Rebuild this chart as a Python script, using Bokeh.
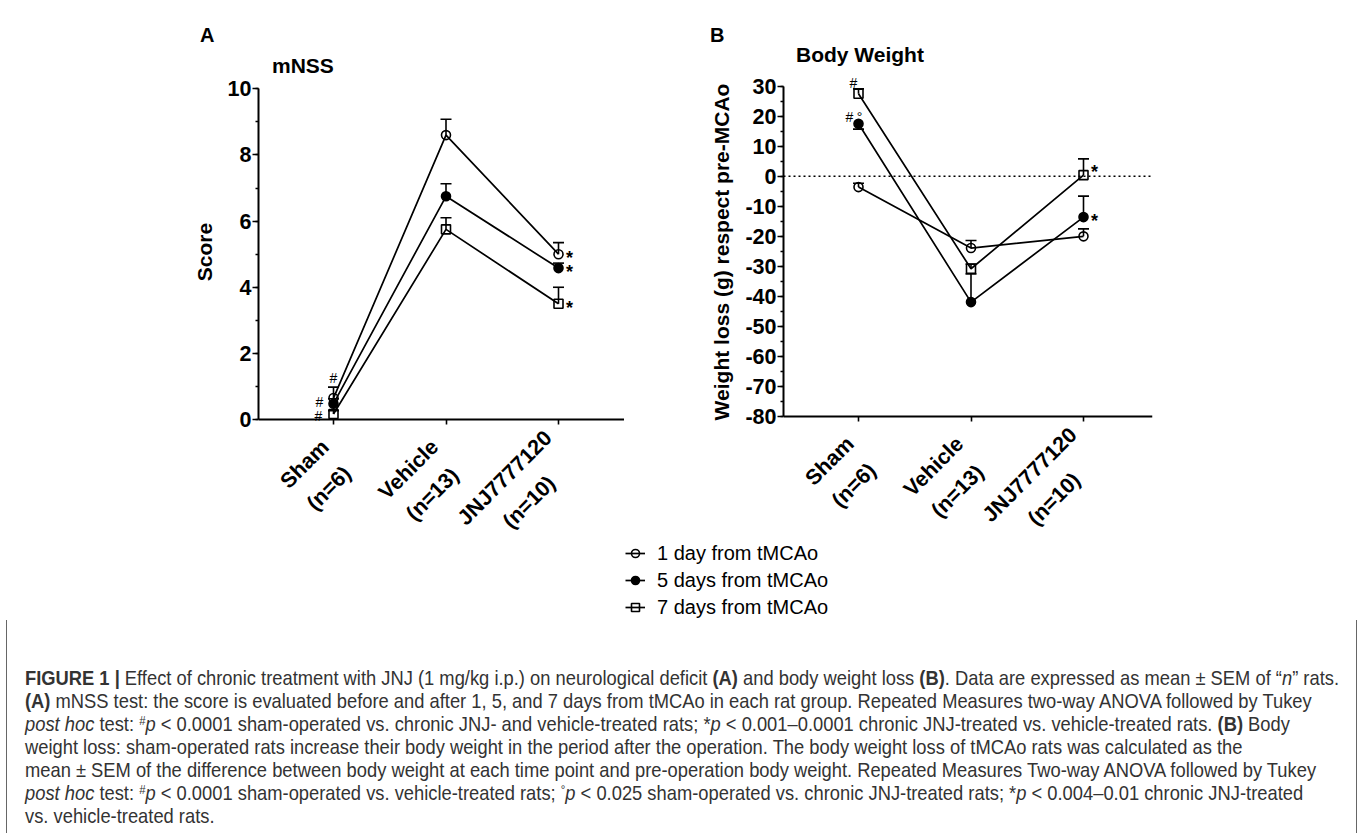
import math
from bokeh.plotting import figure
from bokeh.models import (ColumnDataSource, Range1d, FixedTicker, SingleIntervalTicker,
                          PrintfTickFormatter, Whisker, TeeHead, Span, LabelSet, Legend,
                          LegendItem, Div)
from bokeh.layouts import column, row
from bokeh.core.properties import value
from bokeh.embed import file_html
from bokeh.resources import INLINE

# ---------------- data ----------------
groups = ["Sham", "Vehicle", "JNJ7777120"]
group_n = ["(n=6)", "(n=13)", "(n=10)"]
group_pos = [1, 2, 3]
series = ["1 day from tMCAo", "5 days from tMCAo", "7 days from tMCAo"]

# mNSS score (mean, SEM)
mnss_day1 = [0.65, 8.60, 5.00]
mnss_day1_sem = [0.33, 0.48, 0.35]
mnss_day5 = [0.48, 6.75, 4.58]
mnss_day5_sem = [0.15, 0.38, 0.15]
mnss_day7 = [0.17, 5.75, 3.50]
mnss_day7_sem = [0.10, 0.35, 0.50]

# Body weight change (g) respect pre-MCAo (mean, SEM)
bw_day1 = [-3.6, -23.9, -20.0]
bw_day1_sem = [1.3, 2.5, 2.5]
bw_day5 = [17.5, -41.9, -13.6]
bw_day5_sem = [1.8, 9.4, 7.0]
bw_day7 = [27.5, -30.8, 0.4]
bw_day7_sem = [1.6, 1.6, 5.4]

# direction of the drawn error bar
mnss_err_dir = [["up", "up", "up"], ["up", "up", "up"], ["up", "up", "up"]]
bw_err_dir = [["up", "up", "up"], ["down", "up", "up"], ["up", "up", "up"]]

# significance marks: (series index, group index, text, anchor)
mnss_marks = [(0, 0, "#", "err"), (1, 0, "#", "pt"), (2, 0, "#", "pt"),
              (0, 2, "*", "pt"), (1, 2, "*", "pt"), (2, 2, "*", "pt")]
bw_marks = [(2, 0, "#", "err"), (1, 0, "#", "pt"), (1, 0, "°", "pt"),
            (2, 2, "*", "pt"), (1, 2, "*", "pt")]

# ---------------- style / layout ----------------
FONT = "Liberation Sans"
MARKERS = [("circle", False), ("circle", True), ("square", False)]
CAT_PX = 112.5                     # pixels between categories
X_START = 1 - 75.0 / CAT_PX
TOP_Y = 74                         # page y where the chart row (and both frames) start
ROW_BOTTOM = 540
ROW_H = ROW_BOTTOM - TOP_Y
BOTTOM_BORDER = 6
FRAME_BOTTOM = ROW_BOTTOM - BOTTOM_BORDER   # page y of both frames' bottom
NBSP = "\u00a0"
LABEL_LIFT = NBSP * 18             # centres the y-axis title on the 0..max part of the axis

# rotated two-line category labels: second line centred under the first
TICK_FS = 21.5
TICK_PITCH = 1.6 * TICK_FS
BOLD_W = {"S": .667, "h": .611, "a": .556, "m": .889, "V": .667, "e": .556, "i": .278,
          "c": .556, "l": .278, "J": .556, "N": .722, "(": .333, ")": .333, "n": .611,
          "=": .584, "0": .556, "1": .556, "2": .556, "3": .556, "6": .556, "7": .556}
block_anchor = [(4, 36), (1, 36), (2, 27)]   # right/middle of the label block, px from tick
C45 = math.cos(math.pi / 4)


def text_w(s):
    return sum(BOLD_W.get(ch, .556) for ch in s) * TICK_FS


line1_off, line2_off = [], []
for (bx, by), a, b in zip(block_anchor, groups, group_n):
    h = TICK_PITCH / 2 * C45
    d = (text_w(a) - text_w(b)) / 2 * C45
    line1_off.append((bx - h, by - h))
    line2_off.append((bx + h - d, by + h + d))


def style_axes(p, y_interval, ylabel, bounds):
    p.outline_line_color = None
    p.grid.visible = False
    p.background_fill_color = "white"
    p.border_fill_color = "white"
    for ax in (p.xaxis[0], p.yaxis[0]):
        ax.axis_line_width = 2
        ax.axis_line_color = "black"
        ax.major_tick_line_width = 1.6
        ax.minor_tick_line_width = 1.6
        ax.major_tick_in = 0
        ax.minor_tick_in = 0
        ax.major_label_text_font = FONT
        ax.major_label_text_font_style = "bold"
        ax.major_label_text_font_size = "21.5px"
        ax.major_label_text_color = "black"
    xa = p.xaxis[0]
    xa.ticker = FixedTicker(ticks=group_pos, minor_ticks=[])
    xa.fixed_location = bounds[0]
    xa.major_label_overrides = {g: "" for g in group_pos}
    xa.major_label_text_font_size = "0px"
    xa.major_label_standoff = 0
    xa.major_tick_out = 5
    ya = p.yaxis[0]
    ya.ticker = SingleIntervalTicker(interval=y_interval, num_minor_ticks=2)
    ya.formatter = PrintfTickFormatter(format="%d")
    ya.bounds = bounds
    ya.major_tick_out = 6
    ya.minor_tick_out = 3
    ya.major_label_standoff = 1
    ya.axis_label = LABEL_LIFT + ylabel
    ya.axis_label_text_font = FONT
    ya.axis_label_text_font_style = "bold"
    ya.axis_label_text_font_size = "21px"
    ya.axis_label_text_color = "black"
    ya.axis_label_standoff = 9
    # category labels, rotated, below the x axis (two lines)
    for texts, offs in ((groups, line1_off), (group_n, line2_off)):
        src = ColumnDataSource(dict(x=group_pos, y=[bounds[0]] * len(group_pos), text=texts,
                                    dx=[o[0] for o in offs], dy=[-o[1] for o in offs]))
        p.add_layout(LabelSet(x="x", y="y", text="text", source=src, angle=math.pi / 4,
                              x_offset="dx", y_offset="dy", text_align="right",
                              text_baseline="middle",
                              text_font=value(FONT), text_font_style="bold",
                              text_font_size=f"{TICK_FS}px", text_color="black"))


def draw_series(p, means, sems, dirs, marker, filled):
    top = [m + s if d == "up" else m for m, s, d in zip(means, sems, dirs)]
    bot = [m - s if d == "down" else m for m, s, d in zip(means, sems, dirs)]
    src = ColumnDataSource(dict(x=group_pos, y=means))
    line = p.line("x", "y", source=src, line_color="black", line_width=1.7)
    up_idx = [i for i, d in enumerate(dirs) if d == "up"]
    dn_idx = [i for i, d in enumerate(dirs) if d == "down"]
    if up_idx:
        s_up = ColumnDataSource(dict(x=[group_pos[i] for i in up_idx],
                                     y=[means[i] for i in up_idx],
                                     top=[top[i] for i in up_idx]))
        p.add_layout(Whisker(source=s_up, base="x", upper="top", lower="y",
                             line_width=1.6, line_color="black",
                             upper_head=TeeHead(size=11, line_width=1.6, line_color="black"),
                             lower_head=None))
    if dn_idx:
        s_dn = ColumnDataSource(dict(x=[group_pos[i] for i in dn_idx],
                                     y=[means[i] for i in dn_idx],
                                     bot=[bot[i] for i in dn_idx]))
        p.add_layout(Whisker(source=s_dn, base="x", upper="y", lower="bot",
                             line_width=1.6, line_color="black",
                             lower_head=TeeHead(size=11, line_width=1.6, line_color="black"),
                             upper_head=None))
    sc = p.scatter("x", "y", source=src, marker=marker, size=9,
                   line_color="black", line_width=1.6,
                   fill_color="black", fill_alpha=1.0 if filled else 0.0)
    return line, sc


def add_marks(p, marks, all_means, all_sems, all_dirs, offsets, sizes, styles):
    xs, ys, texts = [], [], []
    for (si, gi, t, anchor) in marks:
        xs.append(group_pos[gi])
        m = all_means[si][gi]
        if anchor == "err" and all_dirs[si][gi] == "up":
            m += all_sems[si][gi]
        ys.append(m)
        texts.append(t)
    src = ColumnDataSource(dict(x=xs, y=ys, text=texts,
                                dx=[o[0] for o in offsets], dy=[o[1] for o in offsets],
                                fs=sizes, st=styles))
    p.add_layout(LabelSet(x="x", y="y", text="text", source=src, x_offset="dx", y_offset="dy",
                          text_font=value(FONT), text_font_size="fs", text_font_style="st",
                          text_align="center", text_baseline="middle", text_color="black"))


# ---------------- header (panel letters and titles) ----------------
def head(txt, left, baseline, size):
    top = baseline - (size * 0.905 - (size * 1.117 - size) / 2)
    return (f'<div style="position:absolute;left:{left}px;top:{top:.1f}px;font-size:{size}px;'
            f'line-height:{size}px;white-space:nowrap;">{txt}</div>')


header_html = (
    '<div style="position:relative;width:1357px;height:%dpx;font-family:\'Liberation Sans\',Arial,sans-serif;'
    'font-weight:bold;color:#000;">' % TOP_Y
    + head("A", 200, 42, 20) + head("mNSS", 272, 73, 21)
    + head("B", 710, 42, 20) + head("Body Weight", 796, 62, 21)
    + '</div>'
)
header = Div(text=header_html, width=1357, height=TOP_Y, margin=0)

# ---------------- panel A ----------------
A_LEFT = 258
A_PX = 33.1                          # pixels per score unit
A_Y10, A_Y0 = 88.3, 419.0            # page y of score 10 and 0
pA = figure(width=624, height=ROW_H,
            x_range=Range1d(X_START, X_START + (624 - A_LEFT) / CAT_PX),
            y_range=Range1d(0 - (FRAME_BOTTOM - A_Y0) / A_PX, 10 + (A_Y10 - TOP_Y) / A_PX),
            output_backend="svg", toolbar_location=None,
            min_border_left=A_LEFT, min_border_right=0, min_border_top=0,
            min_border_bottom=BOTTOM_BORDER)
style_axes(pA, 2, "Score", (0, 10))
mnss_means = [mnss_day1, mnss_day5, mnss_day7]
mnss_sems = [mnss_day1_sem, mnss_day5_sem, mnss_day7_sem]
for i, (mk, fl) in enumerate(MARKERS):
    draw_series(pA, mnss_means[i], mnss_sems[i], mnss_err_dir[i], mk, fl)
add_marks(pA, mnss_marks, mnss_means, mnss_sems, mnss_err_dir,
          offsets=[(0, 9), (-14, 2), (-15, -2), (11, -4), (11, -4), (11, -4)],
          sizes=["14px", "14px", "14px", "18px", "18px", "18px"],
          styles=["normal", "normal", "normal", "bold", "bold", "bold"])

# ---------------- panel B ----------------
B_W, B_LEFT, B_FRAME_W = 733, 159, 369
B_PX = 3.003                        # pixels per gram
B_Y30, B_YM80 = 85.7, 416.0         # page y of +30 and -80
pB = figure(width=B_W, height=ROW_H,
            x_range=Range1d(X_START, X_START + B_FRAME_W / CAT_PX),
            y_range=Range1d(-80 - (FRAME_BOTTOM - B_YM80) / B_PX, 30 + (B_Y30 - TOP_Y) / B_PX),
            output_backend="svg", toolbar_location=None,
            min_border_left=B_LEFT, min_border_right=B_W - B_LEFT - B_FRAME_W,
            min_border_top=0, min_border_bottom=BOTTOM_BORDER)
style_axes(pB, 10, "Weight loss (g) respect pre-MCAo", (-80, 30))
pB.add_layout(Span(location=0, dimension="width", line_color="black", line_width=1.6,
                   line_dash="2 3"))
bw_means = [bw_day1, bw_day5, bw_day7]
bw_sems = [bw_day1_sem, bw_day5_sem, bw_day7_sem]
for i, (mk, fl) in enumerate(MARKERS):
    draw_series(pB, bw_means[i], bw_sems[i], bw_err_dir[i], mk, fl)
add_marks(pB, bw_marks, bw_means, bw_sems, bw_err_dir,
          offsets=[(-5, 6), (-9, 7), (1, 7), (11, 3), (11, -4)],
          sizes=["14px", "14px", "14px", "18px", "18px"],
          styles=["normal", "normal", "normal", "bold", "bold"])

# ---------------- legend ----------------
LEG_H = 80
pL = figure(width=1357, height=LEG_H, x_range=Range1d(10, 11), y_range=Range1d(0, 1),
            output_backend="svg", toolbar_location=None, min_border=0,
            x_axis_location=None, y_axis_location=None)
pL.outline_line_color = None
pL.grid.visible = False
pL.background_fill_color = "white"
pL.border_fill_color = "white"
items = []
for i, (mk, fl) in enumerate(MARKERS):
    lsrc = ColumnDataSource(dict(x=group_pos, y=bw_means[i]))
    ln = pL.line("x", "y", source=lsrc, line_color="black", line_width=1.7, visible=False)
    sc = pL.scatter("x", "y", source=lsrc, marker=mk, size=9, line_color="black",
                    line_width=1.6, fill_color="black", fill_alpha=1.0 if fl else 0.0,
                    visible=False)
    items.append(LegendItem(label=series[i], renderers=[ln, sc]))
legend = Legend(items=items, location=(625, LEG_H - 1.3 - 78), border_line_color=None,
                background_fill_alpha=0, padding=0, margin=0, spacing=3,
                glyph_height=24, label_height=24, glyph_width=20, label_standoff=12,
                inactive_fill_alpha=0,
                label_text_font=FONT, label_text_font_size="20px", label_text_color="black")
pL.add_layout(legend)

# ---------------- caption ----------------
sup = '<sup style="font-size:0.62em;vertical-align:0.5em;line-height:0">{}</sup>'
lines = [
    '<b>FIGURE 1 |</b> Effect of chronic treatment with JNJ (1 mg/kg i.p.) on neurological deficit <b>(A)</b> and body weight loss <b>(B)</b>. Data are expressed as mean &plusmn; SEM of &ldquo;<i>n</i>&rdquo; rats.',
    '<b>(A)</b> mNSS test: the score is evaluated before and after 1, 5, and 7 days from tMCAo in each rat group. Repeated Measures two-way ANOVA followed by Tukey',
    '<i>post hoc</i> test: ' + sup.format('#') + '<i>p</i> &lt; 0.0001 sham-operated vs. chronic JNJ- and vehicle-treated rats; *<i>p</i> &lt; 0.001&ndash;0.0001 chronic JNJ-treated vs. vehicle-treated rats. <b>(B)</b> Body',
    'weight loss: sham-operated rats increase their body weight in the period after the operation. The body weight loss of tMCAo rats was calculated as the',
    'mean &plusmn; SEM of the difference between body weight at each time point and pre-operation body weight. Repeated Measures Two-way ANOVA followed by Tukey',
    '<i>post hoc</i> test: ' + sup.format('#') + '<i>p</i> &lt; 0.0001 sham-operated vs. vehicle-treated rats; ' + sup.format('&deg;') + '<i>p</i> &lt; 0.025 sham-operated vs. chronic JNJ-treated rats; *<i>p</i> &lt; 0.004&ndash;0.01 chronic JNJ-treated',
    'vs. vehicle-treated rats.',
]
CAP_TOP = ROW_BOTTOM + LEG_H
CAP_H = 833 - CAP_TOP
FIRST_BASELINE = 685
caption_html = (
    f'<div style="box-sizing:border-box;margin-left:6px;width:1351px;height:{CAP_H}px;'
    'border-left:1.5px solid #666;border-right:1.5px solid #666;'
    f'padding:{FIRST_BASELINE - CAP_TOP - 18.8:.1f}px 0 0 17.5px;overflow:hidden;">'
    '<div style="transform:scaleX(0.873);transform-origin:0 0;white-space:nowrap;'
    'font-family:\'Liberation Sans\',Arial,sans-serif;font-size:21px;line-height:23px;color:#333;">'
    + '<br>'.join(lines) + '</div></div>'
)
cap = Div(text=caption_html, width=1357, height=CAP_H, margin=0)

layout = column(header, row(pA, pB, spacing=0), pL, cap, spacing=0)
open("out.html", "w").write(file_html(layout, INLINE))
